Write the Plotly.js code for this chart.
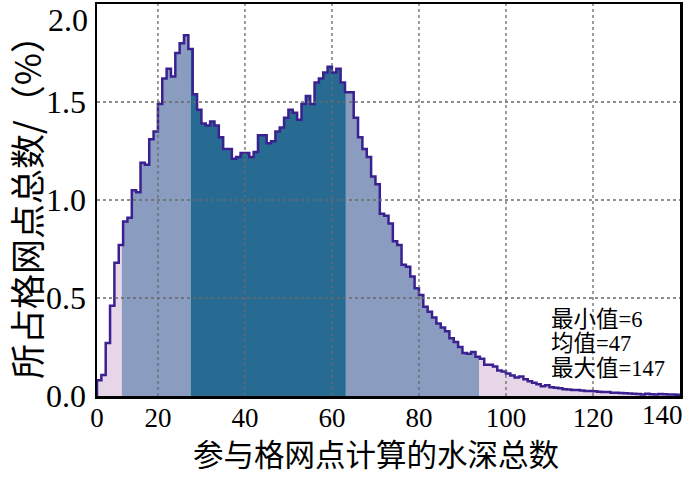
<!DOCTYPE html>
<html>
<head>
<meta charset="utf-8">
<script src="https://cdn.plot.ly/plotly-3.0.1.min.js"></script>
<style>html,body{margin:0;padding:0;background:#fff;}#chart{width:700px;height:477px;}</style>
</head>
<body>
<div id="chart"></div>
<script>
// ---- data ----
const binStart = 6; // first bin = minimum value
const percent = [
  0.08, 0.107, 0.27, 0.46, 0.68, 0.77, 0.89, 0.91, 1.05, 1.04,
  1.19, 1.18, 1.31, 1.35, 1.49, 1.62, 1.67, 1.63, 1.75, 1.80,
  1.84, 1.77, 1.54, 1.46, 1.39, 1.38, 1.40, 1.38, 1.32, 1.26,
  1.26, 1.21, 1.22, 1.24, 1.24, 1.22, 1.245, 1.33, 1.33, 1.29,
  1.30, 1.35, 1.37, 1.42, 1.46, 1.445, 1.41, 1.49, 1.53, 1.49,
  1.60, 1.62, 1.65, 1.68, 1.65, 1.67, 1.60, 1.55, 1.55, 1.42,
  1.32, 1.26, 1.22, 1.12, 1.08, 0.93, 0.92, 0.88, 0.79, 0.77,
  0.67, 0.66, 0.61, 0.55, 0.515, 0.455, 0.43, 0.40, 0.37, 0.35,
  0.33, 0.295, 0.275, 0.25, 0.22, 0.215, 0.225, 0.20, 0.19, 0.16,
  0.16, 0.15, 0.13, 0.125, 0.115, 0.105, 0.095, 0.10, 0.085, 0.075,
  0.068, 0.06, 0.05, 0.055, 0.045, 0.042, 0.04, 0.035, 0.033, 0.03,
  0.03, 0.028, 0.025, 0.026, 0.024, 0.022, 0.02, 0.02, 0.017, 0.016,
  0.015, 0.014, 0.013, 0.012, 0.01, 0.008, 0.011, 0.009, 0.008, 0.01,
  0.009, 0.008, 0.008, 0.007, 0.006, 0.005, 0.005, 0.004, 0.004, 0.003,
  0.003
];
const bandEdges = [6, 11.7, 27.5, 63.2, 93.9, 147];
const bandColors = ['#e7d6e8', '#8b9cc1', '#276a92', '#8b9cc1', '#e7d6e8'];
const xTickVals = [6, 20, 40, 60, 80, 100, 120, 140];
const xTickText = ['0', '20', '40', '60', '80', '100', '120', '140'];
const yTickVals = [0, 0.5, 1.0, 1.5, 2.0];
const yTickText = ['0.0', '0.5', '1.0', '1.5', '2.0'];
const statLines = ['最小值=6', '均值=47', '最大值=147'];
const xTitle = '参与格网点计算的水深总数';
const yTitle = '所占格网点总数/（%）';

// ---- build traces ----
const edges = percent.map((_, i) => binStart + i);
const lastEdge = binStart + percent.length;
function valAt(x) {
  let i = Math.floor(x) - binStart;
  if (i < 0) i = 0;
  if (i >= percent.length) i = percent.length - 1;
  return percent[i];
}
const traces = [];
for (let b = 0; b < bandColors.length; b++) {
  const a = bandEdges[b], e = bandEdges[b + 1];
  const xs = [a], ys = [valAt(a)];
  edges.forEach(k => { if (k > a && k < e) { xs.push(k); ys.push(valAt(k)); } });
  xs.push(e); ys.push(valAt(e - 1e-9));
  traces.push({
    x: xs, y: ys, type: 'scatter', mode: 'lines',
    line: {shape: 'hv', width: 0, color: bandColors[b]},
    fill: 'tozeroy', fillcolor: bandColors[b], hoverinfo: 'skip', showlegend: false
  });
}
traces.push({
  x: [binStart].concat(edges, [lastEdge]),
  y: [0].concat(percent, [percent[percent.length - 1]]),
  type: 'scatter', mode: 'lines',
  line: {shape: 'hv', width: 2.5, color: '#3b2090'},
  showlegend: false
});

// grid lines drawn above the fills (as in the reference)
const gridStyle = {color: '#6a6a6a', width: 1.3, dash: 'dot'};
const shapes = [];
xTickVals.slice(1, -1).forEach(v => shapes.push({type: 'line', xref: 'x', yref: 'paper', x0: v, x1: v, y0: 0, y1: 1, line: gridStyle, layer: 'above'}));
yTickVals.slice(1, -1).forEach(v => shapes.push({type: 'line', xref: 'paper', yref: 'y', x0: 0, x1: 1, y0: v, y1: v, line: gridStyle, layer: 'above'}));

const serif = 'Liberation Serif, Times New Roman, serif';
const cjk = 'Noto Sans CJK SC, sans-serif';
const xFont = {family: serif, size: 27, color: '#000'};
const yFont = {family: serif, size: 32, color: '#000'};

// edge tick labels (placed inside the page like the reference)
const nx = xTickVals.length - 1, ny = yTickVals.length - 1;
const annotations = [
  {xref: 'x', yref: 'paper', x: xTickVals[nx], y: 0, xanchor: 'right', yanchor: 'middle',
   xshift: 5, yshift: -19, showarrow: false, text: xTickText[nx], font: xFont},
  {xref: 'paper', yref: 'y', x: 0, y: yTickVals[ny], xanchor: 'right', yanchor: 'top',
   xshift: -7, yshift: 4, showarrow: false, text: yTickText[ny], font: yFont},
  {xref: 'paper', yref: 'paper', x: 0.4786, y: -0.2066, xanchor: 'center', yanchor: 'bottom',
   showarrow: false, text: xTitle, font: {family: cjk, size: 30.5, color: '#000'}},
  {xref: 'paper', yref: 'paper', x: -0.1235, y: 0.505, xanchor: 'center', yanchor: 'middle',
   textangle: -90, showarrow: false, text: yTitle, font: {family: cjk, size: 35, color: '#000'}}
];
const statY = [0.1964, 0.1352, 0.0714];
statLines.forEach((t, i) => annotations.push({
  xref: 'paper', yref: 'paper', x: 0.775, y: statY[i], xanchor: 'left', yanchor: 'middle',
  showarrow: false, text: t, font: {family: 'Liberation Serif, Noto Sans CJK SC, serif', size: 22.5, color: '#000'}
}));

const layout = {
  width: 700, height: 477,
  margin: {l: 97, r: 20, t: 4, b: 81},
  paper_bgcolor: '#fff', plot_bgcolor: '#fff',
  xaxis: {
    range: [6, 140], tickvals: xTickVals.slice(0, nx), ticktext: xTickText.slice(0, nx),
    showgrid: false, zeroline: false, showline: true, mirror: true,
    linecolor: '#000', linewidth: 2.5, ticks: '', tickfont: xFont, ticklabelstandoff: -4,
    layer: 'above traces'
  },
  yaxis: {
    range: [0, 2], tickvals: yTickVals.slice(0, ny), ticktext: yTickText.slice(0, ny),
    showgrid: false, zeroline: false, showline: true, mirror: true,
    linecolor: '#000', linewidth: 2.5, ticks: '', tickfont: yFont, ticklabelstandoff: 2,
    layer: 'above traces'
  },
  shapes: shapes,
  annotations: annotations
};
Plotly.newPlot('chart', traces, layout, {staticPlot: true});
</script>
</body>
</html>
